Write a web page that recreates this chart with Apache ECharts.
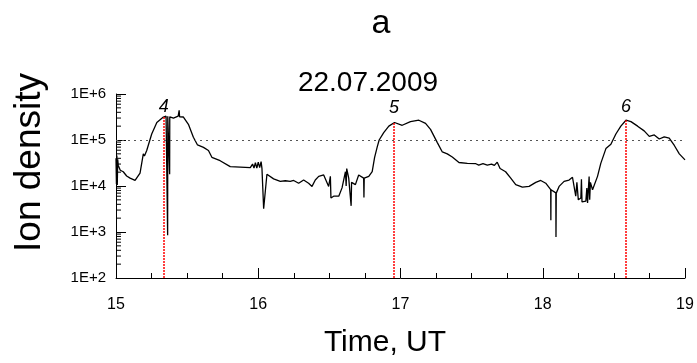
<!DOCTYPE html>
<html>
<head>
<meta charset="utf-8">
<script src="https://cdn.jsdelivr.net/npm/echarts@6/dist/echarts.min.js"></script>
<style>
html,body{margin:0;padding:0;background:#fff;}
#chart{width:697px;height:363px;}
</style>
</head>
<body>
<div id="chart"></div>
<script>
// Time (UT hours) and ion density
const time = [
15.000,15.003,15.006,15.009,15.012,15.016,15.030,15.051,15.075,15.099,15.134,15.169,15.192,15.200,15.216,15.251,15.287,15.333,15.352,15.362,15.363,15.364,15.376,15.377,15.378,15.404,15.437,15.443,15.444,15.447,15.474,15.509,15.544,15.573,15.615,15.650,15.674,15.732,15.803,15.944,15.960,15.970,15.980,15.990,16.000,16.010,16.020,16.026,16.035,16.038,16.061,16.108,16.155,16.190,16.225,16.249,16.284,16.319,16.354,16.378,16.401,16.425,16.460,16.495,16.507,16.511,16.530,16.566,16.589,16.613,16.618,16.622,16.636,16.653,16.656,16.683,16.706,16.741,16.743,16.745,16.777,16.801,16.818,16.836,16.850,16.882,16.918,16.958,17.012,17.070,17.129,17.176,17.211,17.258,17.294,17.329,17.364,17.411,17.470,17.530,17.550,17.580,17.610,17.640,17.660,17.680,17.700,17.739,17.775,17.810,17.857,17.904,17.951,17.986,18.021,18.056,18.057,18.058,18.092,18.093,18.095,18.115,18.150,18.185,18.209,18.232,18.240,18.250,18.268,18.272,18.276,18.303,18.310,18.315,18.326,18.330,18.335,18.350,18.385,18.408,18.444,18.479,18.514,18.549,18.585,18.620,18.667,18.713,18.749,18.784,18.819,18.854,18.889,18.925,18.960,19.000
];
const density = [
40000,11000,46000,10500,38000,28000,22000,20400,16500,14800,13200,19000,50000,45000,59000,135000,240000,316000,330000,330000,850,330000,320000,18000,320000,300000,330000,330000,440000,320000,316000,219000,115000,78000,69000,59000,42000,35500,26300,25100,30000,24500,32000,24500,33000,25000,34000,24200,22000,3200,18000,14300,12600,13000,12600,13200,11500,13500,11500,9800,13500,16200,17400,9800,16200,5500,6000,6000,9100,20500,10000,24000,14800,3700,12000,10700,17400,14800,5600,14800,16200,20500,42000,70000,100000,145000,200000,240000,209000,251000,269000,229000,170000,89000,55000,50000,42700,32400,30900,30500,28500,30500,28500,30000,28000,33000,24000,20400,14800,10700,9500,9800,12000,13200,11500,8300,1800,8300,7100,780,7000,9800,12600,13500,15500,6000,12000,5000,5500,14000,4500,4700,9000,4300,16000,5000,12000,8300,16200,31000,65000,81000,135000,200000,269000,251000,200000,158000,120000,129000,105000,117000,110000,76000,50000,37000
];
// event markers
const markerLabels = ['4', '5', '6'];
const markerTimes = [15.335, 16.955, 18.585];
const markerPeaks = [316000, 240000, 269000];
const markerLabelY = [530000, 500000, 530000];
const referenceLevel = 100000;
// axis ticks
const xTicks = [15, 16, 17, 18, 19];
const yMin = 100, yMax = 1000000;

const fontFamily = 'Liberation Sans, Arial, sans-serif';
const lineData = time.map((t, i) => [t, density[i]]);
const minorVals = [];
for (let d = yMin; d < yMax; d *= 10) {
  for (let k = 2; k <= 9; k++) minorVals.push([xTicks[0], d * k]);
}

const chart = echarts.init(document.getElementById('chart'), null, {renderer: 'canvas'});
chart.setOption({
  animation: false,
  backgroundColor: '#fff',
  textStyle: {fontFamily: fontFamily},
  title: [
    {text: 'a', left: 376, top: 2, textAlign: 'center',
     textStyle: {fontSize: 34, fontWeight: 'normal', color: '#000', fontFamily: fontFamily}},
    {text: '22.07.2009', left: 363, top: 64, textAlign: 'center',
     textStyle: {fontSize: 28, fontWeight: 'normal', color: '#000', fontFamily: fontFamily}}
  ],
  grid: {left: 116, right: 12, top: 94, bottom: 80, containLabel: false},
  xAxis: {
    type: 'value', min: 15, max: 19, interval: 1,
    name: 'Time, UT', nameLocation: 'middle', nameGap: 50,
    nameTextStyle: {fontSize: 30, color: '#000', padding: [0, 31, 0, 0], fontFamily: fontFamily},
    axisLine: {onZero: false, lineStyle: {color: '#000', width: 1}},
    axisTick: {inside: true, length: 10, lineStyle: {color: '#000'}},
    minorTick: {show: true, splitNumber: 4, length: 5, lineStyle: {color: '#000'}},
    axisLabel: {fontSize: 16, color: '#000', margin: 19, fontFamily: fontFamily},
    splitLine: {show: false}
  },
  yAxis: {
    type: 'log', logBase: 10, min: yMin, max: yMax,
    name: 'Ion density', nameLocation: 'middle', nameGap: 68,
    nameTextStyle: {fontSize: 37, color: '#000', padding: [0, 0, 0, 47], fontFamily: fontFamily},
    axisLine: {show: true, lineStyle: {color: '#000', width: 1}},
    axisTick: {inside: true, length: 10, lineStyle: {color: '#000'}},
    axisLabel: {fontSize: 15, color: '#000', margin: 10, fontFamily: fontFamily,
      formatter: v => '1E+' + Math.round(Math.log10(v))},
    splitLine: {show: false}
  },
  series: [
    {
      type: 'line', data: lineData, symbol: 'none',
      lineStyle: {color: '#000', width: 1.3}, z: 3,
      markLine: {
        silent: true, symbol: 'none', label: {show: false},
        data: [
          {yAxis: referenceLevel, lineStyle: {color: '#555', type: [2, 4], width: 1}},
          ...markerTimes.map((t, i) => [
            {coord: [t, yMin], lineStyle: {color: '#ff0000', type: [2, 1], width: 1.5}},
            {coord: [t, markerPeaks[i]]}
          ])
        ]
      }
    },
    {
      type: 'scatter', symbolSize: 0, silent: true,
      itemStyle: {opacity: 1},
      data: markerTimes.map((t, i) => ({value: [t, markerLabelY[i]], name: markerLabels[i]})),
      label: {show: true, position: 'inside', formatter: p => p.name, opacity: 1,
        fontSize: 18, fontStyle: 'italic', color: '#000', fontFamily: fontFamily}
    },
    {
      type: 'custom', silent: true, data: minorVals,
      renderItem: (params, api) => {
        const p = api.coord([api.value(0), api.value(1)]);
        return {type: 'line', shape: {x1: p[0], y1: p[1], x2: p[0] + 5, y2: p[1]},
          style: {stroke: '#000', lineWidth: 1}};
      }
    }
  ]
});
</script>
</body>
</html>
